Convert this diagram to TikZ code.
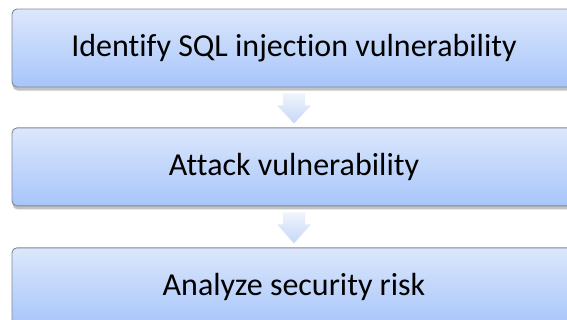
\documentclass[tikz,border=0pt]{standalone}
\usepackage{fontspec}
\setmainfont{Carlito}[Ligatures=NoCommon]
\usepackage{tikz}
\usetikzlibrary{positioning,calc,shadows}

\definecolor{stepTop}{HTML}{DCE7FC}
\definecolor{stepBot}{HTML}{A7C5FA}
\definecolor{stepLine}{HTML}{7F8794}
\definecolor{arrTop}{HTML}{F0F4FC}
\definecolor{arrBot}{HTML}{C6D7F6}

\begin{document}
\begin{tikzpicture}[
  stepbox/.style={draw=stepLine, line width=0.9bp, rounded corners=5bp,
    top color=stepTop, bottom color=stepBot,
    minimum width=564bp, minimum height=78bp, align=center,
    font=\fontsize{32bp}{38bp}\selectfont,
    drop shadow={shadow xshift=0.5bp, shadow yshift=-3.5bp, opacity=0.4, fill=black!60}},
  flowarr/.style={top color=arrTop, bottom color=arrBot, draw=none}
]
\clip (0,0) rectangle (567bp,-320bp);

\node[stepbox] (s1) at (294bp,-48bp) {Identify SQL injection vulnerability};
\node[stepbox, below=40bp of s1] (s2) {Attack vulnerability};
\node[stepbox, below=41bp of s2] (s3) {Analyze security risk};

% Block arrows between steps
\foreach \a/\b in {s1/s2,s2/s3} {
  \shade[flowarr] ($(\a.south)+(-11bp,-6bp)$) -- ($(\a.south)+(11bp,-6bp)$)
    -- ($(\a.south)+(11bp,-18bp)$) -- ($(\a.south)+(17bp,-18bp)$)
    -- ($(\b.north)+(0,4bp)$) -- ($(\a.south)+(-17bp,-18bp)$)
    -- ($(\a.south)+(-11bp,-18bp)$) -- cycle;
}
\end{tikzpicture}
\end{document}
